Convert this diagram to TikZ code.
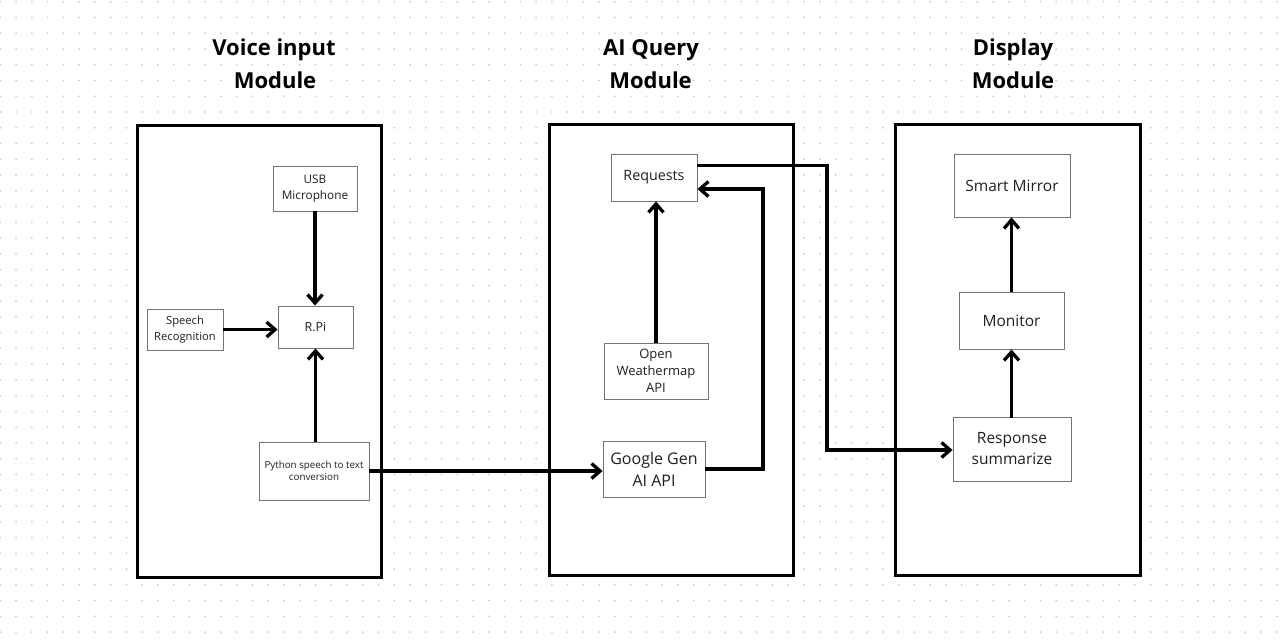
\documentclass[tikz,border=0pt]{standalone}
\usepackage{fontspec}
\setmainfont{Open Sans}
\usetikzlibrary{arrows.meta}
\begin{document}
\begin{tikzpicture}[x=1pt,y=-1pt,
  modbox/.style={draw=black,line width=3pt,fill=white},
  nd/.style={draw=black!55,line width=0.9pt,fill=white,align=center,inner sep=0pt,text=black!88},
  arr/.style={line width=3.3pt,-{Straight Barb[length=8.5pt,width=15pt]}},
  ttl/.style={font=\fontsize{22}{26}\selectfont\bfseries,anchor=base,inner sep=0pt}]
\useasboundingbox (0,0) rectangle (1280,641);
\fill[white] (0,0) rectangle (1280,641);
\foreach \i in {0,...,81}{\foreach \j in {0,...,40}{\fill[black!20] (0.3+15.76*\i,1.7+15.76*\j) circle (1pt);}}
% titles
\node[ttl] (t1a) at (274,55) {Voice input};
\node[ttl] (t1b) at (275,88) {Module};
\node[ttl] (t2a) at (651,55) {AI Query};
\node[ttl] (t2b) at (650.5,88) {Module};
\node[ttl] (t3a) at (1013,55) {Display};
\node[ttl] (t3b) at (1013,88) {Module};
% module boxes
\draw[modbox] (137.5,125) rectangle (381.5,577);
\draw[modbox] (549,124) rectangle (793,575);
\draw[modbox] (895.5,124) rectangle (1140.5,575);
% voice input nodes
\node[nd,minimum width=84pt,minimum height=45pt,font=\fontsize{11.8}{15.5}\selectfont] (usb) at (315,188.5) {USB\\Microphone};
\node[nd,minimum width=76pt,minimum height=41pt,font=\fontsize{11.2}{15.5}\selectfont] (speech) at (185,329.5) {Speech\\Recognition};
\node[nd,minimum width=75pt,minimum height=42pt,font=\fontsize{12.5}{15}\selectfont] (rpi) at (315.5,327) {R.Pi};
\node[nd,minimum width=110pt,minimum height=58pt,font=\fontsize{9.8}{12.5}\selectfont] (python) at (314,471) {Python speech to text\\conversion};
% AI query nodes
\node[nd,minimum width=86pt,minimum height=47pt,font=\fontsize{14.3}{18}\selectfont] (requests) at (654,177.5) {Requests};
\node[nd,minimum width=104pt,minimum height=56pt,font=\fontsize{13}{17}\selectfont] (open) at (656,371) {Open\\Weathermap\\API};
\node[nd,minimum width=102pt,minimum height=56pt,font=\fontsize{16}{22}\selectfont] (google) at (654,469) {Google Gen\\AI API};
% display nodes
\node[nd,minimum width=116pt,minimum height=63pt,font=\fontsize{15.5}{20}\selectfont] (smart) at (1012,185.5) {Smart Mirror};
\node[nd,minimum width=105pt,minimum height=57pt,font=\fontsize{15.5}{20}\selectfont] (monitor) at (1011.5,320.5) {Monitor};
\node[nd,minimum width=118pt,minimum height=64pt,font=\fontsize{15.5}{21}\selectfont] (response) at (1012,449) {Response\\summarize};
% connectors
\draw[arr] (usb.south) -- (usb.south |- rpi.north);
\draw[arr] (speech.east) -- (speech.east -| rpi.west);
\draw[arr] (python.north -| rpi.south) -- (rpi.south);
\draw[arr] (python.east) -- (python.east -| google.west);
\draw[arr] (open.north) -- (open.north |- requests.south);
\coordinate (g1) at (763,469);
\coordinate (g2) at (763,189);
\draw[arr] (google.east |- g1) -- (g1) -- (g2) -- (g2 -| requests.east);
\coordinate (r1) at (827,165.5);
\coordinate (r2) at (827,450);
\draw[arr] (r1 -| requests.east) -- (r1) -- (r2) -- (r2 -| response.west);
\draw[arr] (response.north) -- (response.north -| monitor.south) -- (monitor.south);
\draw[arr] (monitor.north) -- (monitor.north |- smart.south);
\end{tikzpicture}
\end{document}
